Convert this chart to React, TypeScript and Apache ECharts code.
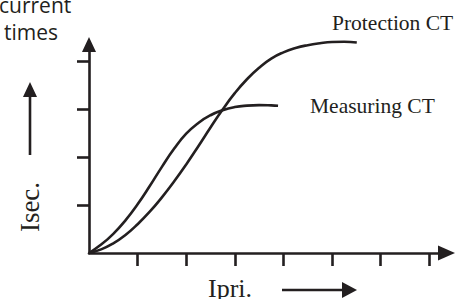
import React, { useEffect, useRef } from "react";
import * as echarts from "echarts";

const INK = "#231f20";

// Measuring CT curve (x = Ipri units, y = Isec units)
const measuringX = [0, 0.25, 0.5, 0.75, 1.0, 1.25, 1.5, 1.75, 2.0, 2.25, 2.5, 2.75, 3.0, 3.25, 3.5, 3.75, 3.89];
const measuringY = [0, 0.175, 0.4, 0.68, 1.015, 1.395, 1.795, 2.17, 2.485, 2.71, 2.87, 2.975, 3.04, 3.07, 3.08, 3.075, 3.068];

// Protection CT curve
const protectionX = [0, 0.25, 0.5, 0.75, 1.0, 1.25, 1.5, 1.75, 2.0, 2.25, 2.5, 2.75, 3.0, 3.25, 3.5, 3.75, 4.0, 4.25, 4.5, 4.75, 5.0, 5.25, 5.51];
const protectionY = [0, 0.075, 0.2, 0.375, 0.6, 0.86, 1.16, 1.49, 1.845, 2.225, 2.615, 2.99, 3.33, 3.62, 3.86, 4.05, 4.18, 4.27, 4.33, 4.37, 4.395, 4.4, 4.385];

const xTicks = [1, 2, 3, 4, 5, 6, 7];
const yTicks = [1, 2, 3, 4];
const xMax = 7.356;
const yMax = 4.344;

const seriesLabels = ["Measuring CT", "Protection CT"];
const axisNames = ["Ipri.", "Isec."];
const cornerText = ["current", "times"];

export default function App() {
  const ref = useRef<HTMLDivElement>(null);
  useEffect(() => {
    if (!ref.current) return;
    const chart = echarts.init(ref.current, null, { renderer: "svg" });
    const zip = (xs: number[], ys: number[]) => xs.map((x, i) => [x, ys[i]]);
    const lineStyle = { color: INK, width: 2.6 };
    chart.setOption({
      animation: false,
      backgroundColor: "#ffffff",
      grid: { left: 89, right: 20.5, top: 44.5, bottom: 46, outerBoundsMode: "none" },
      xAxis: {
        type: "value",
        min: 0,
        max: xMax,
        splitLine: { show: false },
        axisLabel: { show: false },
        axisLine: {
          show: true,
          lineStyle: { color: INK, width: 2.6 },
          symbol: ["none", "triangle"],
          symbolSize: [15, 17],
        },
        axisTick: { show: true, length: 13, customValues: xTicks, lineStyle: { color: INK, width: 2.6 } },
      },
      yAxis: {
        type: "value",
        min: 0,
        max: yMax,
        splitLine: { show: false },
        axisLabel: { show: false },
        axisLine: {
          show: true,
          lineStyle: { color: INK, width: 2.6 },
          symbol: ["none", "triangle"],
          symbolSize: [14, 15],
        },
        axisTick: { show: true, length: 12, customValues: yTicks, lineStyle: { color: INK, width: 2.6 } },
      },
      series: [
        {
          name: seriesLabels[0],
          type: "line",
          data: zip(measuringX, measuringY),
          smooth: 0.5,
          showSymbol: false,
          clip: false,
          lineStyle,
        },
        {
          name: seriesLabels[1],
          type: "line",
          data: zip(protectionX, protectionY),
          smooth: 0.5,
          showSymbol: false,
          clip: false,
          lineStyle,
        },
      ],
      graphic: [
        {
          type: "text",
          x: -1,
          y: 5,
          style: { text: cornerText[0], font: '21px "Open Sans"', fill: INK, textAlign: "left", textVerticalAlign: "middle" },
        },
        {
          type: "text",
          x: 4,
          y: 32,
          style: { text: cornerText[1], font: '21px "Open Sans"', fill: INK, textAlign: "left", textVerticalAlign: "middle" },
        },
        {
          type: "text",
          x: 332,
          y: 22.7,
          style: { text: seriesLabels[1], font: '21.5px "Liberation Serif"', fill: INK, textAlign: "left", textVerticalAlign: "middle" },
        },
        {
          type: "text",
          x: 310,
          y: 105.7,
          style: { text: seriesLabels[0], font: '21.5px "Liberation Serif"', fill: INK, textAlign: "left", textVerticalAlign: "middle" },
        },
        {
          type: "text",
          x: 30,
          y: 207,
          rotation: Math.PI / 2,
          style: { text: axisNames[1], font: '27px "Liberation Serif"', fill: INK, textAlign: "center", textVerticalAlign: "middle" },
        },
        {
          type: "text",
          x: 208,
          y: 288,
          style: { text: axisNames[0], font: '26px "Liberation Serif"', fill: INK, textAlign: "left", textVerticalAlign: "middle" },
        },
        { type: "line", shape: { x1: 30, y1: 96, x2: 30, y2: 155 }, style: { stroke: INK, lineWidth: 2.6 } },
        { type: "polygon", shape: { points: [[30, 82], [23, 97], [37, 97]] }, style: { fill: INK } },
        { type: "line", shape: { x1: 282, y1: 290, x2: 343, y2: 290 }, style: { stroke: INK, lineWidth: 2.6 } },
        { type: "polygon", shape: { points: [[357, 290], [342, 282], [342, 298]] }, style: { fill: INK } },
      ],
    });
    return () => chart.dispose();
  }, []);
  return (
    <div
      ref={ref}
      style={{ position: "fixed", left: 0, top: 0, width: 467, height: 299, background: "#fff" }}
    />
  );
}
